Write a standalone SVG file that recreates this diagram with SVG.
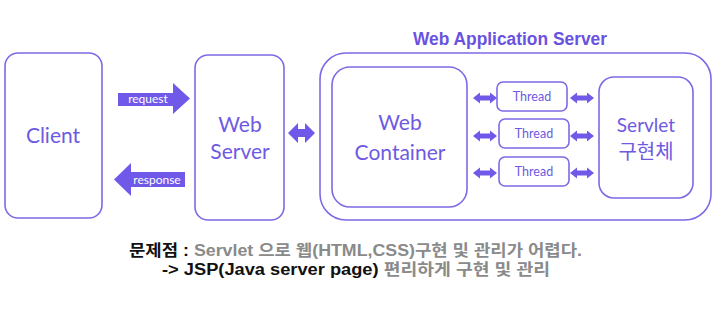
<svg xmlns="http://www.w3.org/2000/svg" width="722" height="319" viewBox="0 0 722 319">
<style>
.box{fill:#fff;stroke:#7d6ae6;stroke-width:1.6}
.lbl{font-family:Lato,"Noto Sans","Noto Sans CJK KR",sans-serif;fill:#6e5ae2;text-anchor:middle}
.arw{fill:#7058e8}
.al{font-family:Lato,"Noto Sans",sans-serif;fill:#fff;font-size:12px;text-anchor:middle}
.th{font-family:Lato,"Noto Sans",sans-serif;fill:#6e5ae2;font-size:12.5px;text-anchor:middle}
.bt{font-family:"Liberation Sans","Noto Sans CJK KR",sans-serif;font-weight:bold;font-size:16px}
</style>
<defs>
<path id="dbl" d="M0,0 l7,-5.5 v3 h10 v-3 l7,5.5 l-7,5.5 v-3 h-10 v3 z"/>
</defs>
<rect width="722" height="319" fill="#fff"/>

<g id="client">
<rect class="box" x="5" y="53" width="97" height="165" rx="13"/>
<text class="lbl" x="53" y="143" font-size="21">Client</text>
</g>

<g id="webserver">
<rect class="box" x="195" y="55" width="89" height="165" rx="13"/>
<text class="lbl" x="240" y="132" font-size="21">Web</text>
<text class="lbl" x="240" y="159" font-size="21">Server</text>
</g>

<g id="was">
<rect class="box" x="320" y="53" width="391" height="167" rx="26"/>
<text x="510" y="45" font-family="'Liberation Sans',sans-serif" font-weight="bold" font-size="18" fill="#6a52e0" text-anchor="middle" textLength="194" lengthAdjust="spacingAndGlyphs">Web Application Server</text>
</g>

<g id="webcontainer">
<rect class="box" x="332" y="67" width="135" height="140" rx="18"/>
<text class="lbl" x="400" y="130" font-size="21">Web</text>
<text class="lbl" x="400" y="160" font-size="21">Container</text>
</g>

<g id="thread1">
<rect class="box" x="497" y="82" width="70" height="29" rx="6"/>
<text class="th" x="532" y="101">Thread</text>
</g>
<g id="thread2">
<rect class="box" x="499" y="119" width="70" height="29" rx="6"/>
<text class="th" x="534" y="138">Thread</text>
</g>
<g id="thread3">
<rect class="box" x="499" y="157" width="70" height="29" rx="6"/>
<text class="th" x="534" y="176">Thread</text>
</g>

<g id="servlet">
<rect class="box" x="599" y="77" width="94" height="121" rx="15"/>
<text class="lbl" x="646" y="132" font-size="19">Servlet</text>
<text class="lbl" x="646" y="159" font-size="20">구현체</text>
</g>

<g id="connectors">
<path class="arw" d="M118,93 H173 V83 L190,98.5 L173,114 V106 H118 Z"/>
<text class="al" x="148" y="103">request</text>
<path class="arw" d="M185,172 H131 V163 L114,179.5 L131,196 V187 H185 Z"/>
<text class="al" x="157" y="184">response</text>
<path class="arw" d="M288,133 l10,-10 v6 h7 v-6 l10,10 l-10,10 v-6 h-7 v6 z"/>
<use href="#dbl" class="arw" x="473" y="98"/>
<use href="#dbl" class="arw" x="473" y="136"/>
<use href="#dbl" class="arw" x="473" y="173"/>
<use href="#dbl" class="arw" x="570" y="98"/>
<use href="#dbl" class="arw" x="570" y="136"/>
<use href="#dbl" class="arw" x="570" y="173"/>
</g>

<g id="note">
<text class="bt" x="129" y="256" textLength="453" lengthAdjust="spacingAndGlyphs"><tspan fill="#111">문제점 : </tspan><tspan fill="#8a8a8a">Servlet 으로 웹(HTML,CSS)구현 및 관리가 어렵다.</tspan></text>
<text class="bt" x="162" y="275" textLength="388" lengthAdjust="spacingAndGlyphs"><tspan fill="#111">-&gt; JSP(Java server page)  </tspan><tspan fill="#8a8a8a">편리하게 구현 및 관리</tspan></text>
</g>
</svg>
